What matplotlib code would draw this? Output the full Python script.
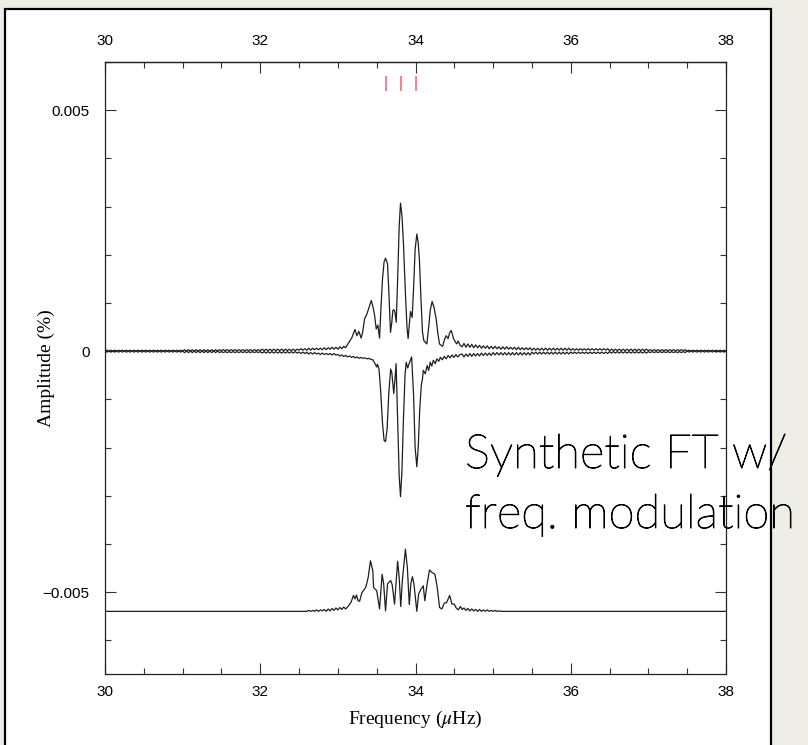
import matplotlib
matplotlib.use('Agg')
import matplotlib.pyplot as plt
import matplotlib.patheffects as pe
import numpy as np
from matplotlib.patches import Rectangle
from matplotlib.ticker import MultipleLocator, FixedLocator

plt.rcParams['mathtext.fontset'] = 'stix'

# amplitudes are read in units of 1e-5 %
UNIT = 1e-5

# ---- observed FT (top trace) ----
top_left_tail = [
    0, 2, 0, 2, 0, 2, 0, 2, 0, 2, 0, 2, 0, 2, 0, 2, 0, 2, 0, 2,
    0, 2, 0, 2, 0, 2, 0, 2, 0, 2, 0, 2, 0, 2, 0, 2, 0, 2, 0, 2,
    0, 3, 0, 3, 0, 3, 0, 3, 0, 3, 0, 3, 0, 3, 0, 3, 0, 3, 0, 3,
    1, 3, 1, 3, 1, 3, 1, 3, 1, 3, 1, 3, 1, 3, 1, 3, 1, 3, 1, 3,
    1, 4, 1, 4, 1, 4, 1, 4, 1, 4, 1, 4, 1, 4, 1, 4, 1, 4, 1, 4,
    2, 5, 2, 5, 2, 6, 2, 6, 3, 6, 3, 6, 3, 7, 3, 7, 4, 8, 4, 8,
]
top_center_freq = [
    33.0, 33.025, 33.05, 33.075, 33.1, 33.125, 33.15, 33.18, 33.22, 33.245,
    33.27, 33.30, 33.32, 33.344, 33.374, 33.40, 33.43, 33.455, 33.473, 33.494,
    33.515, 33.537, 33.555, 33.575, 33.595, 33.614, 33.64, 33.66, 33.678, 33.695,
    33.708, 33.722, 33.735, 33.752, 33.77, 33.79, 33.807, 33.826, 33.846, 33.87,
    33.89, 33.905, 33.92, 33.936, 33.957, 33.975, 33.995, 34.017, 34.035, 34.05,
    34.07, 34.09, 34.107, 34.13, 34.146, 34.17, 34.19, 34.214, 34.24, 34.266,
    34.29, 34.309, 34.33, 34.35, 34.375, 34.395, 34.42, 34.44, 34.459, 34.475,
    34.49, 34.51, 34.53, 34.55, 34.575,
]
top_center_amp = [
    4, 9, 5, 10, 7, 14, 20, 28, 45, 32,
    41, 27, 40, 67, 77, 90, 105, 90, 74, 46,
    54, 27, 90, 150, 185, 193, 181, 110, 39, 60,
    84, 86, 81, 60, 150, 260, 307, 280, 219, 120,
    50, 26, 55, 82, 70, 130, 210, 243, 225, 191,
    110, 40, 22, 18, 15, 50, 85, 103, 90, 67,
    35, 15, 12, 10, 25, 32, 26, 38, 43, 35,
    26, 20, 15, 21, 12,
]
top_right_tail = [
    9, 16, 8, 15, 8, 14, 7, 13, 7, 12, 6, 11, 6, 11, 5, 10,
    5, 10, 5, 9, 4, 9, 4, 9, 4, 8, 4, 8, 3, 8, 3, 7, 3, 7, 3, 7,
    2, 6, 2, 6, 2, 6, 2, 6, 2, 6, 2, 6, 2, 6, 2, 6, 2, 6, 2, 6,
    2, 5, 2, 5, 2, 5, 2, 5, 2, 5, 2, 5, 2, 5, 2, 5, 2, 5, 2, 5,
    1, 4, 1, 4, 1, 4, 1, 4, 1, 4, 1, 4, 1, 4, 1, 4, 1, 4, 1, 4,
    1, 3, 1, 3, 1, 3, 1, 3, 1, 3, 1, 3, 1, 3, 1, 3, 1, 3, 1, 3,
    0, 2, 0, 2, 0, 2, 0, 2, 0, 2, 0, 2, 0, 2, 0, 2, 0, 2, 0, 2, 0,
]

# ---- synthetic FT with frequency modulation (plotted negative) ----
syn_left_tail = [
    0, -2, 0, -2, 0, -2, 0, -2, 0, -2, 0, -2, 0, -2, 0, -2, 0, -2, 0, -2,
    0, -2, 0, -2, 0, -2, 0, -2, 0, -2, 0, -2, 0, -2, 0, -2, 0, -2, 0, -2,
    0, -3, 0, -3, 0, -3, 0, -3, 0, -3, 0, -3, 0, -3, 0, -3, 0, -3, 0, -3,
    -1, -3, -1, -3, -1, -3, -1, -3, -1, -3, -1, -3, -1, -3, -1, -3, -1, -3, -1, -3,
    -1, -4, -1, -4, -1, -4, -1, -4, -1, -4, -1, -4, -1, -4, -1, -4, -1, -4, -1, -4,
    -2, -5, -2, -5, -2, -6, -3, -6, -3, -6, -4, -7, -4, -7, -5, -7, -5, -8, -5, -8,
]
syn_center_freq = [
    33.0, 33.025, 33.05, 33.075, 33.1, 33.125, 33.15, 33.175, 33.2, 33.225,
    33.25, 33.275, 33.3, 33.325, 33.35, 33.375, 33.4, 33.425, 33.45, 33.475,
    33.5, 33.51, 33.53, 33.55, 33.575, 33.595, 33.614, 33.635, 33.655, 33.68,
    33.695, 33.72, 33.735, 33.75, 33.77, 33.79, 33.807, 33.825, 33.845, 33.865,
    33.88, 33.9, 33.92, 33.95, 33.975, 33.995, 34.017, 34.035, 34.055, 34.075,
    34.09, 34.1, 34.125, 34.15, 34.17, 34.19, 34.21, 34.23, 34.255, 34.275,
    34.3, 34.32, 34.345, 34.37, 34.395, 34.42, 34.445, 34.47, 34.495, 34.52,
    34.545, 34.575,
]
syn_center_amp = [
    -7, -10, -8, -11, -9, -12, -10, -13, -11, -14,
    -12, -15, -13, -15, -14, -16, -15, -17, -18, -25,
    -33, -27, -37, -80, -150, -185, -188, -160, -90, -37,
    -45, -88, -60, -26, -140, -260, -302, -250, -140, -50,
    -23, -35, -25, -12, -90, -200, -240, -200, -120, -70,
    -57, -40, -47, -30, -40, -23, -31, -19, -26, -16,
    -21, -13, -18, -11, -16, -9, -14, -8, -13, -7,
    -12, -7,
]
syn_right_tail = [
    -6, -12, -6, -11, -5, -11, -5, -10, -5, -10, -4, -9, -4, -9, -4, -9,
    -3, -8, -3, -8, -3, -8, -3, -8, -3, -8, -3, -8, -3, -8, -3, -8, -3, -8, -3, -8,
    -2, -6, -2, -6, -2, -6, -2, -6, -2, -6, -2, -6, -2, -6, -2, -6, -2, -6, -2, -6,
    -2, -5, -2, -5, -2, -5, -2, -5, -2, -5, -2, -5, -2, -5, -2, -5, -2, -5, -2, -5,
    -1, -4, -1, -4, -1, -4, -1, -4, -1, -4, -1, -4, -1, -4, -1, -4, -1, -4, -1, -4,
    -1, -3, -1, -3, -1, -3, -1, -3, -1, -3, -1, -3, -1, -3, -1, -3, -1, -3, -1, -3,
    0, -2, 0, -2, 0, -2, 0, -2, 0, -2, 0, -2, 0, -2, 0, -2, 0, -2, 0, -2, 0,
]

# ---- residuals (shifted down) ----
resid_offset = -0.0054
resid_freq = [
    30.0, 32.6, 32.625, 32.65, 32.675, 32.7, 32.725, 32.75, 32.775, 32.8,
    32.825, 32.85, 32.875, 32.9, 32.925, 32.95, 32.975, 33.0, 33.025, 33.05,
    33.075, 33.1, 33.13, 33.17, 33.2, 33.22, 33.24, 33.26, 33.28, 33.31,
    33.36, 33.39, 33.42, 33.45, 33.46, 33.48, 33.5, 33.537, 33.57, 33.59,
    33.614, 33.64, 33.68, 33.70, 33.73, 33.77, 33.79, 33.81, 33.83, 33.87,
    33.895, 33.92, 33.94, 33.96, 33.98, 34.017, 34.04, 34.07, 34.1, 34.12,
    34.15, 34.18, 34.21, 34.25, 34.28, 34.31, 34.34, 34.37, 34.40, 34.44,
    34.47, 34.50, 34.52, 34.55, 34.58, 34.6, 34.625, 34.65, 34.675, 34.7,
    34.725, 34.75, 34.775, 34.8, 34.825, 34.85, 34.875, 34.9, 34.925, 34.95,
    34.975, 35.0, 35.025, 35.05, 35.075, 35.1, 38.0,
]
resid_amp = [
    0, 0, 2, 0, 2, 0, 3, 0, 3, 1,
    4, 0, 5, 1, 6, 2, 7, 3, 8, 4,
    9, 5, 10, 19, 33, 26, 34, 22, 21, 39,
    50, 70, 105, 84, 50, 46, 43, 5, 77, 57,
    1, 57, 64, 55, 15, 104, 70, 10, 63, 129,
    91, 14, 57, 72, 57, 0, 36, 46, 53, 22,
    57, 86, 81, 77, 50, 8, 5, 17, 18, 33,
    15, 15, 8, 3, 10, 4, 7, 2, 6, 1,
    5, 1, 4, 0, 4, 0, 3, 0, 3, 0,
    2, 0, 2, 0, 1, 0, 0,
]

# injected frequencies (red marks)
mode_freqs = [33.614, 33.814, 34.012]

# ---------------------------------------------------------------
step = 0.025
left_f = 30.0 + step * np.arange(len(top_left_tail))
right_f = 34.6 + step * np.arange(len(top_right_tail))

top_f = np.concatenate([left_f, top_center_freq, right_f])
top_a = np.concatenate([top_left_tail, top_center_amp, top_right_tail]) * UNIT
syn_f = np.concatenate([left_f, syn_center_freq, right_f])
syn_a = np.concatenate([syn_left_tail, syn_center_amp, syn_right_tail]) * UNIT
res_f = np.asarray(resid_freq)
res_a = np.asarray(resid_amp) * UNIT + resid_offset

W, H = 808, 745
fig = plt.figure(figsize=(W / 100, H / 100), dpi=100, facecolor='#eeeee6')

# white slide panel with black frame
fig.add_artist(Rectangle((5 / W, -0.02), 766 / W, (H - 9) / H + 0.02,
                         transform=fig.transFigure, facecolor='white',
                         edgecolor='black', lw=1.6, zorder=-5))

ax = fig.add_axes([105 / W, 1 - 674 / H, (726 - 105) / W, (674 - 62) / H])
ax.set_facecolor('white')

lc = '#1e1e1e'
ax.plot(top_f, top_a, color=lc, lw=0.9)
ax.plot(syn_f, syn_a, color=lc, lw=0.9)
ax.plot(res_f, res_a, color=lc, lw=0.9)
ax.vlines(mode_freqs, 0.0054, 0.0057, color='#ff5a70', lw=1.1)

ax.set_xlim(30, 38)
ax.set_ylim(-0.0067, 0.006)

tick_font = {'family': 'Liberation Sans', 'size': 11}
ax.xaxis.set_major_locator(FixedLocator([30, 32, 34, 36, 38]))
ax.xaxis.set_minor_locator(MultipleLocator(0.5))
ax.yaxis.set_major_locator(FixedLocator([-0.005, 0, 0.005]))
ax.yaxis.set_minor_locator(MultipleLocator(0.001))
ax.set_yticklabels(['\u22120.005', '0', '0.005'], fontdict=tick_font)
ax.set_xticklabels(['30', '32', '34', '36', '38'], fontdict=tick_font)

ax.tick_params(axis='both', which='both', direction='in', colors='#333333', width=0.8)
ax.tick_params(axis='x', which='both', top=False, bottom=True)
ax.tick_params(axis='y', which='both', left=True, right=True)
ax.tick_params(axis='x', which='major', length=8, pad=8)
ax.tick_params(axis='x', which='minor', length=4)
ax.tick_params(axis='y', which='major', length=8, pad=11)
ax.tick_params(axis='y', which='minor', length=4)
ax.tick_params(labelcolor='black')

top = ax.secondary_xaxis('top')
top.xaxis.set_major_locator(FixedLocator([30, 32, 34, 36, 38]))
top.xaxis.set_minor_locator(MultipleLocator(0.5))
top.set_xticklabels(['30', '32', '34', '36', '38'], fontdict=tick_font)
top.tick_params(axis='x', which='both', direction='in', colors='#333333', width=0.8)
top.tick_params(axis='x', which='major', length=8, pad=10)
top.tick_params(axis='x', which='minor', length=4)
top.tick_params(labelcolor='black')

for s in ax.spines.values():
    s.set_color('#222222')
    s.set_linewidth(0.9)
top.spines['top'].set_color('#222222')
top.spines['top'].set_linewidth(0.9)

label_font = {'family': 'Liberation Serif', 'size': 14}
ax.set_xlabel(r'Frequency ($\mu$Hz)', fontdict=label_font)
ax.set_ylabel('Amplitude (%)', fontdict=label_font)
ax.xaxis.set_label_coords(0.5, -0.057)
ax.yaxis.set_label_coords(-0.08, 0.5)

# slide caption: light humanist sans, thickened slightly with a stroke
title_fam = ['Lato', 'DejaVu Sans']
thicken = [pe.withStroke(linewidth=0.7, foreground='black')]
for line, base in [('Synthetic FT w/', 468), ('freq. modulation', 528)]:
    fig.text(465 / W, 1 - base / H, line, family=title_fam,
             fontweight='light', fontsize=34, color='black',
             va='baseline', ha='left', zorder=10, path_effects=thicken)

fig.savefig('out.png', dpi=100, facecolor=fig.get_facecolor())
